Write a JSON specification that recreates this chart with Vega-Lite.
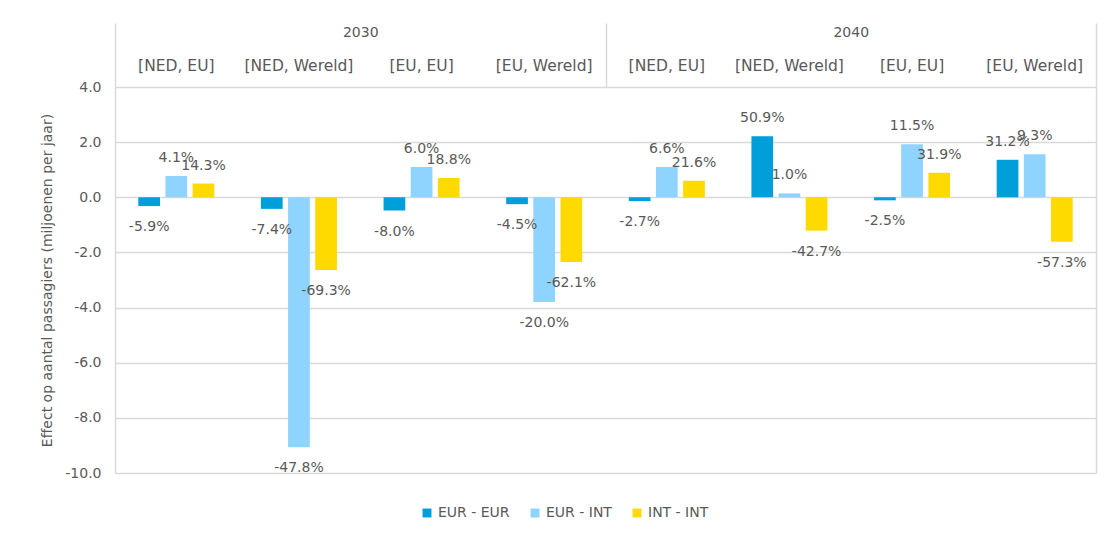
{
  "$schema": "https://vega.github.io/schema/vega-lite/v6.json",
  "width": 981,
  "height": 386,
  "autosize": {"type": "pad"},
  "padding": {"top": 22, "left": 40, "right": 6, "bottom": 10},
  "background": "white",
  "config": {
    "view": {"stroke": null},
    "font": "DejaVu Sans",
    "axis": {"labelColor": "#595959", "titleColor": "#595959", "labelFontSize": 14, "titleFontSize": 14, "titleFontWeight": "normal", "labelFont": "DejaVu Sans", "titleFont": "DejaVu Sans"},
    "legend": {"labelColor": "#595959", "labelFontSize": 14, "labelFont": "DejaVu Sans"}
  },
  "data": {
    "values": [
      {"year": "2030", "cat": "2030|[NED, EU]", "series": "EUR - EUR", "value": -0.32, "pct": "-5.9%"},
      {"year": "2030", "cat": "2030|[NED, EU]", "series": "EUR - INT", "value": 0.77, "pct": "4.1%"},
      {"year": "2030", "cat": "2030|[NED, EU]", "series": "INT - INT", "value": 0.5, "pct": "14.3%"},
      {"year": "2030", "cat": "2030|[NED, Wereld]", "series": "EUR - EUR", "value": -0.42, "pct": "-7.4%"},
      {"year": "2030", "cat": "2030|[NED, Wereld]", "series": "EUR - INT", "value": -9.07, "pct": "-47.8%"},
      {"year": "2030", "cat": "2030|[NED, Wereld]", "series": "INT - INT", "value": -2.64, "pct": "-69.3%"},
      {"year": "2030", "cat": "2030|[EU, EU]", "series": "EUR - EUR", "value": -0.48, "pct": "-8.0%"},
      {"year": "2030", "cat": "2030|[EU, EU]", "series": "EUR - INT", "value": 1.1, "pct": "6.0%"},
      {"year": "2030", "cat": "2030|[EU, EU]", "series": "INT - INT", "value": 0.7, "pct": "18.8%"},
      {"year": "2030", "cat": "2030|[EU, Wereld]", "series": "EUR - EUR", "value": -0.25, "pct": "-4.5%"},
      {"year": "2030", "cat": "2030|[EU, Wereld]", "series": "EUR - INT", "value": -3.8, "pct": "-20.0%"},
      {"year": "2030", "cat": "2030|[EU, Wereld]", "series": "INT - INT", "value": -2.35, "pct": "-62.1%"},
      {"year": "2040", "cat": "2040|[NED, EU]", "series": "EUR - EUR", "value": -0.14, "pct": "-2.7%"},
      {"year": "2040", "cat": "2040|[NED, EU]", "series": "EUR - INT", "value": 1.1, "pct": "6.6%"},
      {"year": "2040", "cat": "2040|[NED, EU]", "series": "INT - INT", "value": 0.6, "pct": "21.6%"},
      {"year": "2040", "cat": "2040|[NED, Wereld]", "series": "EUR - EUR", "value": 2.21, "pct": "50.9%"},
      {"year": "2040", "cat": "2040|[NED, Wereld]", "series": "EUR - INT", "value": 0.14, "pct": "1.0%"},
      {"year": "2040", "cat": "2040|[NED, Wereld]", "series": "INT - INT", "value": -1.21, "pct": "-42.7%"},
      {"year": "2040", "cat": "2040|[EU, EU]", "series": "EUR - EUR", "value": -0.11, "pct": "-2.5%"},
      {"year": "2040", "cat": "2040|[EU, EU]", "series": "EUR - INT", "value": 1.92, "pct": "11.5%"},
      {"year": "2040", "cat": "2040|[EU, EU]", "series": "INT - INT", "value": 0.89, "pct": "31.9%"},
      {"year": "2040", "cat": "2040|[EU, Wereld]", "series": "EUR - EUR", "value": 1.36, "pct": "31.2%"},
      {"year": "2040", "cat": "2040|[EU, Wereld]", "series": "EUR - INT", "value": 1.56, "pct": "9.3%"},
      {"year": "2040", "cat": "2040|[EU, Wereld]", "series": "INT - INT", "value": -1.61, "pct": "-57.3%"}
    ]
  },
  "resolve": {"scale": {"x": "independent", "y": "independent"}, "axis": {"x": "independent", "y": "independent"}},
  "layer": [
    {
      "encoding": {
        "x": {"field": "cat", "type": "nominal", "sort": null,
          "scale": {"paddingInner": 0.38, "paddingOuter": 0.19},
          "axis": {"orient": "top", "title": null, "ticks": false, "domain": false, "grid": false, "labelAngle": 0, "labelPadding": 14, "labelFontSize": 15.5, "labelExpr": "split(datum.label, '|')[1]"}},
        "xOffset": {"field": "series", "type": "nominal", "sort": ["EUR - EUR", "EUR - INT", "INT - INT"], "scale": {"paddingInner": 0.2}},
        "y": {"field": "value", "type": "quantitative",
          "scale": {"domain": [-10, 4], "nice": false, "zero": false},
          "axis": {"title": "Effect op aantal passagiers (miljoenen per jaar)", "values": [-10, -8, -6, -4, -2, 0, 2, 4], "labelExpr": "replace(format(datum.value, '.1f'), '\u2212', '-')", "ticks": false, "labelPadding": 14, "titlePadding": 10, "grid": true, "gridColor": "#d9d9d9", "gridWidth": 1.5, "domain": true, "domainColor": "#d9d9d9", "domainWidth": 1.5}}
      },
      "layer": [
        {
          "mark": {"type": "bar"},
          "encoding": {
            "color": {"field": "series", "type": "nominal",
              "scale": {"domain": ["EUR - EUR", "EUR - INT", "INT - INT"], "range": ["#009FDA", "#8FD4FF", "#FFDA00"]},
              "legend": {"orient": "none", "legendX": 305, "legendY": 419, "direction": "horizontal", "title": null, "symbolType": "square", "symbolSize": 80, "columnPadding": 18}}
          }
        },
        {
          "transform": [{"filter": "datum.value >= 0"}],
          "mark": {"type": "text", "dy": -18, "baseline": "middle", "fontSize": 14, "color": "#595959", "font": "DejaVu Sans"},
          "encoding": {"text": {"field": "pct"}}
        },
        {
          "transform": [{"filter": "datum.value < 0"}],
          "mark": {"type": "text", "dy": 21, "baseline": "middle", "fontSize": 14, "color": "#595959", "font": "DejaVu Sans"},
          "encoding": {"text": {"field": "pct"}}
        }
      ]
    },
    {
      "mark": {"type": "point", "opacity": 0},
      "encoding": {
        "x": {"field": "year", "type": "nominal",
          "scale": {"paddingInner": 0, "paddingOuter": 0},
          "axis": {"orient": "top", "title": null, "tickBand": "extent", "tickSize": 64, "tickColor": "#d9d9d9", "tickWidth": 1.5, "domain": false, "grid": false, "labelAngle": 0, "labelPadding": -16}},
        "y": {"field": "value", "type": "quantitative",
          "scale": {"domain": [-10, 4], "nice": false, "zero": false},
          "axis": {"orient": "right", "title": null, "labels": false, "ticks": false, "grid": false, "domain": true, "domainColor": "#d9d9d9", "domainWidth": 1.5}}
      }
    }
  ]
}
